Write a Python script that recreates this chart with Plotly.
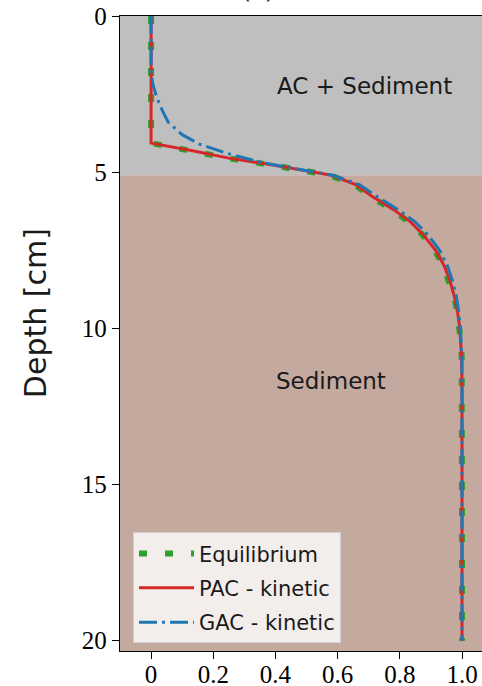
import plotly.graph_objects as go

# ---- data ----
x_ticks = [0, 0.2, 0.4, 0.6, 0.8, 1.0]
x_tick_labels = ["0", "0.2", "0.4", "0.6", "0.8", "1.0"]
y_ticks = [0, 5, 10, 15, 20]
y_tick_labels = ["0", "5", "10", "15", "20"]

ac_layer_depth = 5.1      # bottom of the "AC + Sediment" layer [cm]
max_depth = 20.33

eq_depth = [0, 4.07, 4.3, 4.55, 4.8, 5.1, 5.4, 5.8, 6.2, 6.6, 7.0, 7.5, 8.0, 8.5,
            9.0, 9.5, 10.0, 10.5, 11.0, 12, 14, 16, 18, 20]
eq_value = [0, 0, 0.12, 0.245, 0.405, 0.575, 0.655, 0.71, 0.775, 0.83, 0.872, 0.912,
            0.94, 0.96, 0.975, 0.985, 0.992, 0.997, 0.999, 1, 1, 1, 1, 1]

pac_depth = [0, 4.07, 4.3, 4.55, 4.8, 5.1, 5.4, 5.8, 6.2, 6.6, 7.0, 7.5, 8.0, 8.5,
             9.0, 9.5, 10.0, 10.5, 11.0, 12, 14, 16, 18, 20]
pac_value = [0, 0, 0.125, 0.25, 0.41, 0.58, 0.658, 0.715, 0.78, 0.835, 0.875, 0.915,
             0.943, 0.962, 0.976, 0.986, 0.993, 0.997, 0.999, 1, 1, 1, 1, 1]

gac_depth = [0, 1.8, 2.2, 2.6, 3.0, 3.4, 3.8, 4.1, 4.4, 4.7, 5.1, 5.4, 5.8, 6.2,
             6.6, 7.0, 7.5, 8.0, 8.5, 9.0, 9.5, 10.0, 10.5, 11, 12, 14, 16, 18, 20]
gac_value = [0, 0, 0.006, 0.018, 0.035, 0.055, 0.10, 0.155, 0.245, 0.36, 0.585, 0.67,
             0.73, 0.795, 0.85, 0.89, 0.928, 0.953, 0.97, 0.982, 0.99, 0.995, 0.998,
             1, 1, 1, 1, 1, 1]

# ---- figure ----
fig = go.Figure()

fig.add_trace(go.Scatter(x=eq_value, y=eq_depth, mode="lines", name="Equilibrium",
                         legendgroup="a",
                         line=dict(color="#2ca02c", width=6, dash="8px,18px")))
fig.add_trace(go.Scatter(x=pac_value, y=pac_depth, mode="lines", name="PAC - kinetic",
                         legendgroup="b",
                         line=dict(color="#d62728", width=3)))
fig.add_trace(go.Scatter(x=gac_value, y=gac_depth, mode="lines", name="GAC - kinetic",
                         legendgroup="c",
                         line=dict(color="#1f77b4", width=3, dash="18px,5px,3px,5px")))

fig.add_shape(type="rect", xref="paper", yref="y", x0=0, x1=1, y0=0, y1=ac_layer_depth,
              fillcolor="#bfbfbf", line=dict(width=0), layer="below")
fig.add_shape(type="rect", xref="paper", yref="y", x0=0, x1=1, y0=ac_layer_depth,
              y1=max_depth, fillcolor="#c4a99f", line=dict(width=0), layer="below")

txt_font = dict(family="DejaVu Sans", size=23, color="#1a1a1a")
fig.add_annotation(x=0.685, y=2.25, xref="x", yref="y", text="AC + Sediment",
                   showarrow=False, font=txt_font)
fig.add_annotation(x=0.58, y=11.7, xref="x", yref="y", text="Sediment",
                   showarrow=False, font=txt_font)
fig.add_annotation(x=-0.2348, y=0.532, xref="paper", yref="paper", text="Depth [cm]",
                   textangle=-90, showarrow=False, xanchor="center", yanchor="middle",
                   font=dict(family="DejaVu Sans", size=30, color="#1a1a1a"))
fig.add_annotation(x=0.3315, y=1, xref="paper", yref="paper", text="(a)",
                   yanchor="bottom", yshift=10, showarrow=False,
                   font=dict(family="DejaVu Sans", size=23, color="#1a1a1a"))

tick_font = dict(family="Liberation Serif", size=25, color="#000000")
fig.update_xaxes(range=[-0.1, 1.0643], tickvals=x_ticks, ticktext=x_tick_labels,
                 ticks="outside", ticklen=7, tickwidth=1.2, tickcolor="black",
                 showline=True, linecolor="black", linewidth=1.3, mirror=True,
                 showgrid=False, zeroline=False, tickfont=tick_font,
                 automargin=False, ticklabelstandoff=-6)
fig.update_yaxes(range=[max_depth, 0], tickvals=y_ticks, ticktext=y_tick_labels,
                 ticks="outside", ticklen=7, tickwidth=1.2, tickcolor="black",
                 showline=True, linecolor="black", linewidth=1.3, mirror=False,
                 showgrid=False, zeroline=False, tickfont=tick_font,
                 automargin=False)

fig.update_layout(
    width=482, height=686,
    margin=dict(l=120, r=0, t=16, b=35),
    paper_bgcolor="white", plot_bgcolor="white",
    showlegend=True,
    legend=dict(x=0.036, y=0.012, xanchor="left", yanchor="bottom",
                bgcolor="rgba(255,255,255,0.8)", bordercolor="#d0d0d0", borderwidth=1,
                font=dict(family="DejaVu Sans", size=21, color="#1a1a1a"),
                itemwidth=55, traceorder="grouped", tracegroupgap=4),
)

fig.write_html("out.html",
               config={"displayModeBar": False},
               post_script="document.body.style.margin='0';"
                           "document.body.style.overflow='hidden';")
